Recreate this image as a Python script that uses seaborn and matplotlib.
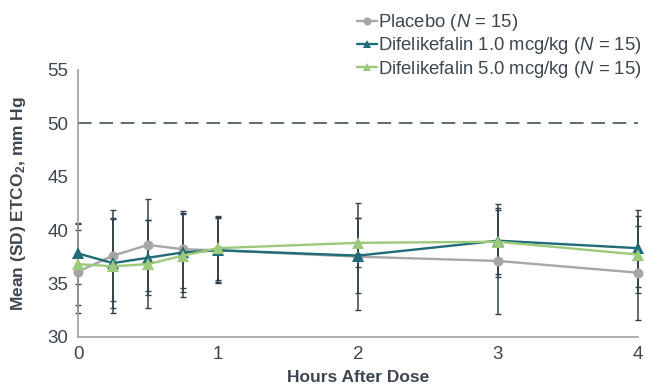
import matplotlib
matplotlib.use("Agg")
import matplotlib.pyplot as plt
import seaborn as sns
import pandas as pd
import numpy as np

hours = [0, 0.25, 0.5, 0.75, 1, 2, 3, 4]
placebo_mean = [36.1, 37.6, 38.6, 38.2, 38.1, 37.5, 37.1, 36.0]
placebo_sd = [3.9, 4.3, 4.3, 3.6, 3.1, 5.0, 5.0, 4.4]
dfk1_mean = [37.8, 36.9, 37.4, 37.9, 38.1, 37.6, 39.0, 38.3]
dfk1_sd = [2.9, 4.2, 3.5, 3.7, 3.0, 3.5, 3.4, 3.6]
dfk5_mean = [36.8, 36.6, 36.8, 37.6, 38.3, 38.8, 38.9, 37.7]
dfk5_sd = [3.8, 4.4, 4.1, 3.9, 3.0, 2.3, 3.0, 3.6]
series_names = ["Placebo ($N$ = 15)",
                "Difelikefalin 1.0 mcg/kg ($N$ = 15)",
                "Difelikefalin 5.0 mcg/kg ($N$ = 15)"]
threshold = 50
yticks = [30, 35, 40, 45, 50, 55]
xticks = [0, 1, 2, 3, 4]

sns.set_style("white")
plt.rcParams["font.family"] = ["Liberation Sans", "DejaVu Sans"]
plt.rcParams["mathtext.fontset"] = "custom"
plt.rcParams["mathtext.rm"] = "Liberation Sans"
plt.rcParams["mathtext.it"] = "Liberation Sans:italic"
plt.rcParams["mathtext.bf"] = "Liberation Sans:bold"

txt = "#3d4650"
colors = ["#a6a6a6", "#1f6b77", "#9dc97a"]
markers = ["o", "^", "^"]
msizes = [7.2, 8, 8]
err_color = "#34424e"

rows = []
for name, m, s in zip(series_names, [placebo_mean, dfk1_mean, dfk5_mean],
                      [placebo_sd, dfk1_sd, dfk5_sd]):
    for h, mv, sv in zip(hours, m, s):
        rows.append({"Hours": h, "Mean": mv, "SD": sv, "Group": name})
df = pd.DataFrame(rows)

fig = plt.figure(figsize=(6.46, 3.89), dpi=100)
ax = fig.add_axes([78 / 646, 1 - 336.7 / 389, 560 / 646, 266.7 / 389])

ax.axhline(threshold, color="#5a6b78", lw=1.4, dashes=(7, 4), zorder=1)

for name in series_names:
    sub = df[df["Group"] == name]
    ax.errorbar(sub["Hours"], sub["Mean"], yerr=sub["SD"], fmt="none",
                ecolor=err_color, elinewidth=1.1, capsize=2.2, capthick=1.0,
                zorder=2, clip_on=False)

for name, c, mk, ms in zip(series_names, colors, markers, msizes):
    sub = df[df["Group"] == name]
    sns.lineplot(data=sub, x="Hours", y="Mean", ax=ax, color=c, marker=mk,
                 markersize=ms, markeredgewidth=0, linewidth=1.7,
                 label=name, zorder=3, estimator=None)

ax.set_xlim(0, 4)
ax.set_ylim(30, 55)
ax.set_xticks(xticks)
ax.set_yticks(yticks)
ax.set_xticklabels([str(v) for v in xticks])
ax.set_yticklabels([str(v) for v in yticks])
for sp in ["top", "right"]:
    ax.spines[sp].set_visible(False)
for sp in ["left", "bottom"]:
    ax.spines[sp].set_color("#a0a0a0")
    ax.spines[sp].set_linewidth(1.2)
ax.tick_params(axis="both", colors="#a0a0a0", labelcolor=txt, labelsize=13.5,
               length=4, width=1.0, direction="out", pad=3)
for ln in ax.lines:
    ln.set_clip_on(False)

ax.set_xlabel("Hours After Dose", fontsize=12.5, fontweight="bold", color=txt,
              labelpad=5)
ax.set_ylabel(r"Mean (SD) ETCO$_\mathbf{2}$, mm Hg", fontsize=12.5,
              fontweight="bold", color=txt, labelpad=14)

h, l = ax.get_legend_handles_labels()
ax.get_legend().remove()
leg = fig.legend(h, l, loc="upper left", bbox_to_anchor=(357 / 646, 1 - 12 / 389),
                 frameon=False, fontsize=13.3, handlelength=1.1,
                 handletextpad=0.05, labelspacing=0.13, borderpad=0,
                 borderaxespad=0, markerscale=0.8)
for t in leg.get_texts():
    t.set_color(txt)

fig.savefig("out.png", dpi=100)
